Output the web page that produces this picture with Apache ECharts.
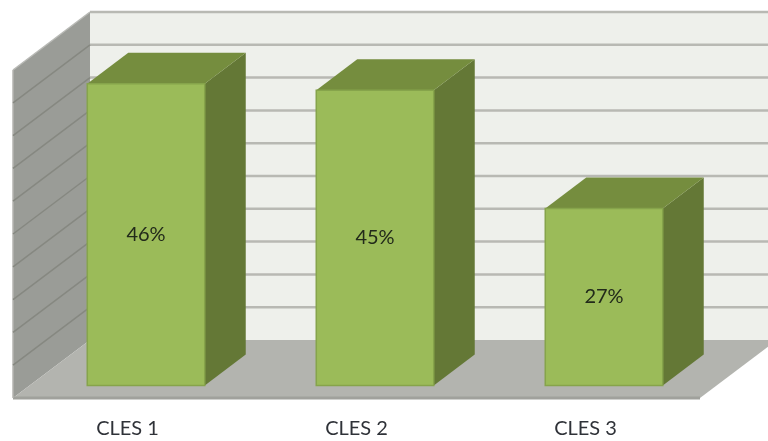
<!DOCTYPE html>
<html><head><meta charset="utf-8">
<style>html,body{margin:0;padding:0;background:#fff}#c{width:768px;height:441px}</style>
<script src="https://cdn.jsdelivr.net/npm/echarts@6/dist/echarts.min.js"></script>
</head><body><div id="c"></div>
<script>
var categories = ['CLES 1', 'CLES 2', 'CLES 3'];
var values = [46, 45, 27];
var gridTicks = [0, 5, 10, 15, 20, 25, 30, 35, 40, 45, 50];
var FONT = 'Lato';
var WALL = [77, -58], BAR_OFF = [18.5, -12.5], BAR_D = [41, -31], BAR_W = 0.513;

function poly(pts, fill) {
  return {type: 'polygon', shape: {points: pts}, style: {fill: fill}};
}
function seg(a, b, col, lw) {
  return {type: 'line', shape: {x1: a[0], y1: a[1], x2: b[0], y2: b[1]},
    style: {stroke: col, lineWidth: lw, fill: null}};
}
function shift(p, d) { return [p[0] + d[0], p[1] + d[1]]; }

var chart = echarts.init(document.getElementById('c'), null, {renderer: 'canvas'});
chart.setOption({
  animation: false,
  backgroundColor: '#ffffff',
  grid: {left: 13, top: 70, width: 687, height: 328, containLabel: false},
  xAxis: {type: 'category', data: categories,
    axisLine: {show: false}, axisTick: {show: false}, splitLine: {show: false},
    axisLabel: {margin: 21, color: '#2f3238', fontFamily: FONT, fontSize: 20}},
  yAxis: {type: 'value', min: 0, max: 50, interval: 5, show: false, splitLine: {show: false}},
  series: [
    {type: 'custom', coordinateSystem: 'cartesian2d', silent: true, z: 1, data: [[0, 50]],
     renderItem: function (params, api) {
       var cs = params.coordSys, y0 = api.coord([0, api.value(0)])[1], y1 = api.coord([0, api.value(1)])[1];
       var R = cs.x + cs.width + 40;
       var fl0 = [cs.x, y0], fr0 = [cs.x + cs.width, y0], fl1 = [cs.x, y1];
       return {type: 'group', children: [
         poly([shift(fl1, WALL), [R + WALL[0], y1 + WALL[1]], [R + WALL[0], y0 + WALL[1]], shift(fl0, WALL)], '#eef0eb'),
         poly([fl0, fl1, shift(fl1, WALL), shift(fl0, WALL)], '#9a9c97'),
         poly([fl0, fr0, shift(fr0, WALL), shift(fl0, WALL)], '#b3b4af'),
         seg(fl0, fr0, '#a0a19c', 3),
         seg(fl0, fl1, '#b4b5b1', 1.5)
       ]};
     }},
    {type: 'custom', coordinateSystem: 'cartesian2d', silent: true, z: 2,
     data: gridTicks.map(function (t) { return [0, t]; }),
     renderItem: function (params, api) {
       var cs = params.coordSys, y = api.coord([0, api.value(1)])[1];
       var f = [cs.x, y], b = shift(f, WALL);
       var kids = [];
       if (api.value(1) > 0) {
         kids.push(seg(b, [cs.x + cs.width + 40 + WALL[0], b[1]], '#b8b9b3', 2.5));
         kids.push(seg(f, b, api.value(1) < 50 ? '#868881' : '#b9bab6', 1.5));
       }
       return {type: 'group', children: kids};
     }},
    {type: 'custom', coordinateSystem: 'cartesian2d', silent: true, z: 3,
     encode: {x: 0, y: 1},
     data: values.map(function (v, i) { return [i, v]; }),
     renderItem: function (params, api) {
       var top = api.coord([api.value(0), api.value(1)]), base = api.coord([api.value(0), 0]);
       var w = api.size([1, 0])[0] * BAR_W;
       var xl = top[0] - w / 2 + BAR_OFF[0], xr = xl + w;
       var yt = top[1] + BAR_OFF[1], yb = base[1] + BAR_OFF[1];
       var tl = [xl, yt], tr = [xr, yt], br = [xr, yb], bl = [xl, yb];
       return {type: 'group', children: [
         poly([tr, br, shift(br, BAR_D), shift(tr, BAR_D)], '#647836'),
         poly([tl, tr, shift(tr, BAR_D), shift(tl, BAR_D)], '#758d3e'),
         {type: 'rect', shape: {x: xl, y: yt, width: w, height: yb - yt},
          style: {fill: '#9bbb59', stroke: '#86a44b', lineWidth: 1.5}},
         {type: 'text', style: {x: (xl + xr) / 2, y: (yt + yb) / 2,
           text: api.value(1) + '%', align: 'center', verticalAlign: 'middle',
           fill: '#222a1a', font: '20px ' + FONT}}
       ]};
     }}
  ]
});
</script></body></html>
